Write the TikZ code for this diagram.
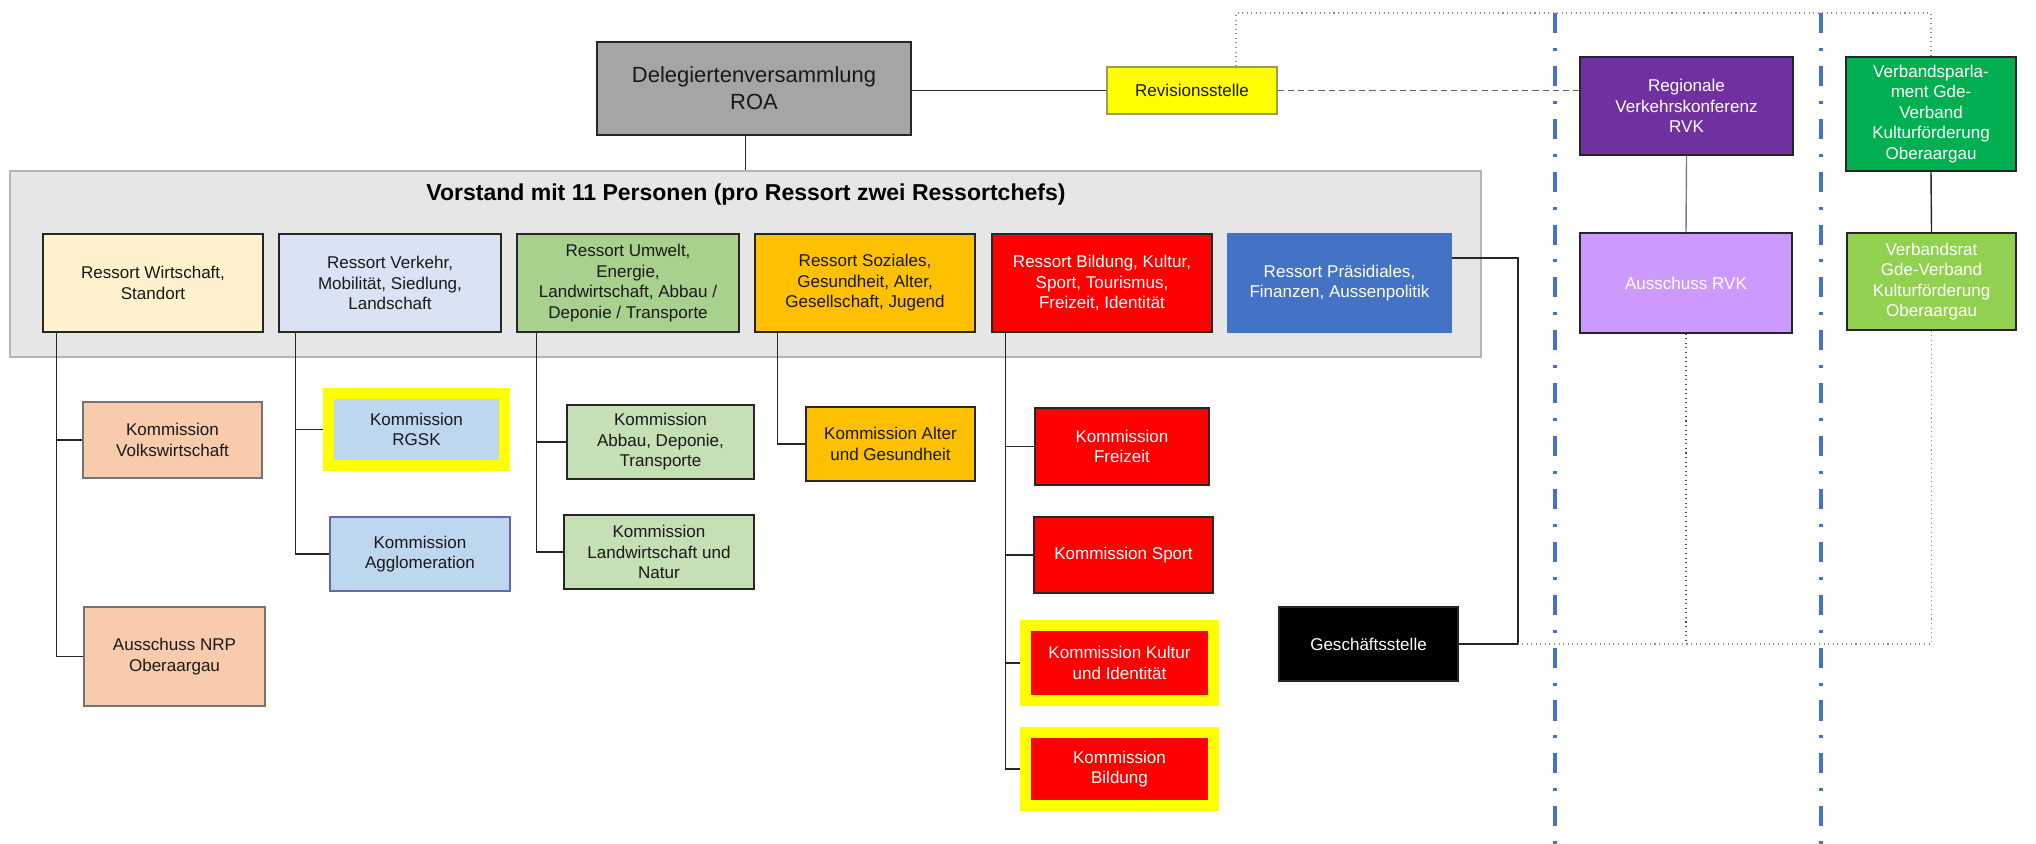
\documentclass[tikz,border=0pt]{standalone}
\usepackage{fontspec}
\setmainfont{Liberation Sans}

\definecolor{boxline}{HTML}{262626}
\definecolor{delegfill}{HTML}{A5A5A5}
\definecolor{vorfill}{HTML}{E7E6E6}
\definecolor{vorline}{HTML}{B4B4B4}
\definecolor{wirtfill}{HTML}{FFF2CC}
\definecolor{verkfill}{HTML}{DAE3F3}
\definecolor{umwfill}{HTML}{A9D18E}
\definecolor{sozfill}{HTML}{FFC000}
\definecolor{bildfill}{HTML}{FF0000}
\definecolor{praesfill}{HTML}{4472C4}
\definecolor{kvwfill}{HTML}{F8CBAD}
\definecolor{kverkfill}{HTML}{BDD7EE}
\definecolor{kumwfill}{HTML}{C5E0B4}
\definecolor{hlyellow}{HTML}{FFFF00}
\definecolor{revline}{HTML}{9A9A5A}
\definecolor{rvkfill}{HTML}{7030A0}
\definecolor{ausfill}{HTML}{CC99FF}
\definecolor{parlfill}{HTML}{00B050}
\definecolor{vratfill}{HTML}{92D050}
\definecolor{sepblue}{HTML}{4472C4}

\newcommand\boxfont{\fontsize{9.7}{11.7}\selectfont}
\newcommand\delegfont{\fontsize{12.5}{15.4}\selectfont}
\newcommand\titlefont{\fontsize{13.1}{15}\selectfont\bfseries}

\tikzset{
  box/.style={draw=boxline, line width=0.8pt, align=center, inner sep=1pt, text=black!90, font=\boxfont},
  sz/.style 2 args={minimum width=#1cm, minimum height=#2cm},
  wtext/.style={text=white},
  hl/.style={draw=hlyellow, line width=0.22cm},
  conn/.style={line width=0.8pt, draw=black!85},
  dotline/.style={line width=0.6pt, draw=black!45, dotted},
  revdash/.style={line width=0.9pt, draw=black!60, dash pattern=on 3.5pt off 2.3pt},
  sepline/.style={draw=sepblue, line width=2.3pt, dash pattern=on 11.4pt off 8.5pt on 1.7pt off 8.5pt}
}

\begin{document}
\begin{tikzpicture}[x=0.02cm, y=-0.02cm]
  \useasboundingbox (0,0) rectangle (2036,844);

  \foreach \x in {1555,1821}
  \draw[sepline] (\x,13) -- (\x,844);

  \node[draw=vorline, line width=1pt, fill=vorfill, sz={29.42}{3.72}] (vorstand) at (745.5,264) {};
  \node[font=\titlefont] (vtitle) at (746,195) {Vorstand mit 11 Personen (pro Ressort zwei Ressortchefs)};

  \node[box, sz={6.28}{1.86}, fill=delegfill, font=\delegfont] (deleg) at (754,88.5) {Delegiertenversammlung\\ROA};
  \node[box, sz={3.4}{0.94}, fill=hlyellow, draw=revline] (rev) at (1192,90.5) {Revisionsstelle};

  \node[box, sz={4.4}{1.96}, fill=wirtfill] (r1) at (153,283) {Ressort Wirtschaft,\\Standort};
  \node[box, sz={4.44}{1.96}, fill=verkfill] (r2) at (390,283) {Ressort Verkehr,\\Mobilität, Siedlung,\\Landschaft};
  \node[box, sz={4.44}{1.96}, fill=umwfill] (r3) at (628,283) {Ressort Umwelt,\\Energie,\\Landwirtschaft, Abbau /\\Deponie / Transporte};
  \node[box, sz={4.4}{1.96}, fill=sozfill] (r4) at (865,283) {Ressort Soziales,\\Gesundheit, Alter,\\Gesellschaft, Jugend};
  \node[box, sz={4.4}{1.96}, fill=bildfill, wtext] (r5) at (1102,283) {Ressort Bildung, Kultur,\\Sport, Tourismus,\\Freizeit, Identität};
  \node[box, sz={4.46}{1.96}, fill=praesfill, draw=praesfill, wtext] (r6) at (1339.5,283) {Ressort Präsidiales,\\Finanzen, Aussenpolitik};

  \node[box, sz={3.58}{1.52}, fill=kvwfill, draw=black!55] (kvw) at (172.5,440) {Kommission\\Volkswirtschaft};
  \node[box, sz={3.62}{1.98}, fill=kvwfill, draw=black!55] (nrp) at (174.5,656.5) {Ausschuss NRP\\Oberaargau};
  \node[box, sz={3.54}{1.44}, fill=kverkfill, hl] (rgsk) at (416.5,429.5) {Kommission\\RGSK};
  \node[box, sz={3.6}{1.48}, fill=kverkfill, draw=black!50!blue!60] (agg) at (420,554) {Kommission\\Agglomeration};
  \node[box, sz={3.74}{1.48}, fill=kumwfill] (abbau) at (660.5,442) {Kommission\\Abbau, Deponie,\\Transporte};
  \node[box, sz={3.8}{1.48}, fill=kumwfill] (lw) at (659,552) {Kommission\\Landwirtschaft und\\Natur};
  \node[box, sz={3.38}{1.48}, fill=sozfill] (alter) at (890.5,444) {Kommission Alter\\und Gesundheit};
  \node[box, sz={3.48}{1.54}, fill=bildfill, wtext] (freizeit) at (1122,446.5) {Kommission\\Freizeit};
  \node[box, sz={3.58}{1.52}, fill=bildfill, wtext] (sport) at (1123.5,555) {Kommission Sport};
  \node[box, sz={3.76}{1.5}, fill=bildfill, hl, wtext] (kultur) at (1119.5,663) {Kommission Kultur\\und Identität};
  \node[box, sz={3.76}{1.46}, fill=bildfill, hl, wtext] (bildk) at (1119.5,769) {Kommission\\Bildung};
  \node[box, sz={3.58}{1.48}, fill=black, wtext] (gs) at (1368.5,644) {Geschäftsstelle};

  \node[box, sz={4.26}{1.96}, fill=rvkfill, wtext] (rvk) at (1686.5,106) {Regionale\\Verkehrskonferenz\\RVK};
  \node[box, sz={4.24}{2.0}, fill=ausfill, wtext] (aus) at (1686,283) {Ausschuss RVK};
  \node[box, sz={3.4}{2.28}, fill=parlfill, wtext] (parl) at (1931,114) {Verbandsparla-\\ment Gde-\\Verband\\Kulturförderung\\Oberaargau};
  \node[box, sz={3.38}{1.94}, fill=vratfill, wtext] (vrat) at (1931.5,281.5) {Verbandsrat\\Gde-Verband\\Kulturförderung\\Oberaargau};

  \coordinate (tl) at (1236,13);
  \coordinate (pc) at (1518,644);

  \draw[conn] (vorstand.north) -- (vorstand.north |- deleg.south);
  \draw[conn] (deleg.east |- rev.west) -- (rev.west);
  \draw[revdash] (rev.east) -- (rev.east -| rvk.west);
  \draw[dotline] (tl |- rev.north) -- (tl) -| (parl.north);

  \draw[conn] ([xshift=0.28cm]r1.south west) |- (kvw.west);
  \draw[conn] ([xshift=0.28cm]r1.south west) |- (nrp.west);
  \draw[conn] ([xshift=0.34cm]r2.south west) |- (rgsk.west);
  \draw[conn] ([xshift=0.34cm]r2.south west) |- (agg.west);
  \draw[conn] ([xshift=0.4cm]r3.south west) |- (abbau.west);
  \draw[conn] ([xshift=0.4cm]r3.south west) |- (lw.west);
  \draw[conn] ([xshift=0.46cm]r4.south west) |- (alter.west);
  \foreach \k in {freizeit,sport,kultur,bildk}
  \draw[conn] ([xshift=0.28cm]r5.south west) |- (\k.west);

  \draw[conn] ([yshift=0.5cm]r6.east) -| (pc) -- (gs.east);
  \draw[conn, draw=gray] (rvk.south) -- (aus.north);
  \draw[conn] (parl.south) -- (vrat.north);
  \draw[dotline, draw=black!70] (aus.south) -- (aus.south |- pc);
  \draw[dotline] (vrat.south) |- (pc);

\end{tikzpicture}
\end{document}
